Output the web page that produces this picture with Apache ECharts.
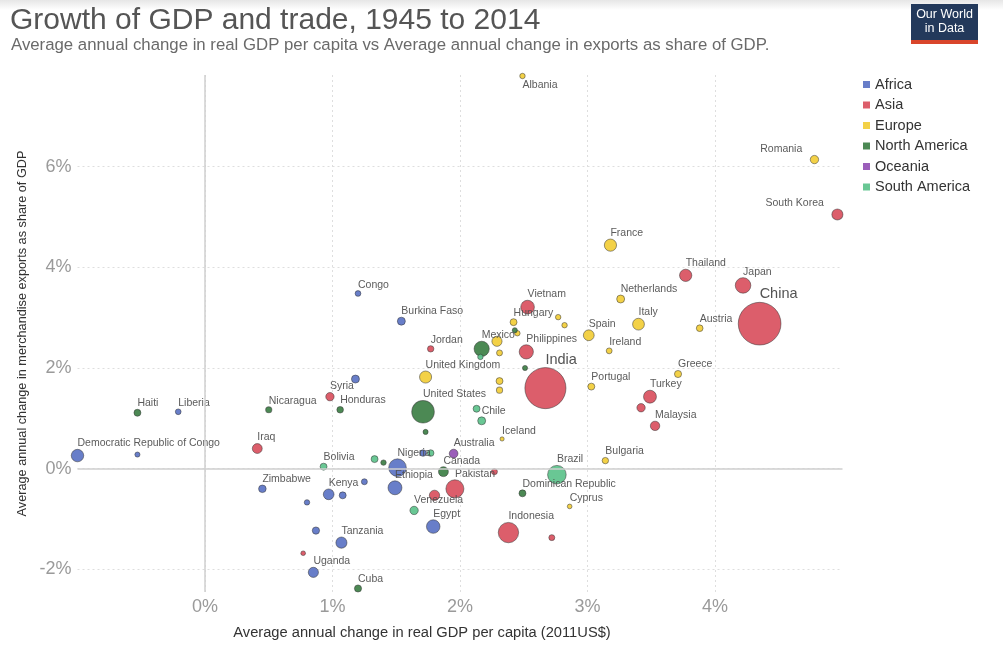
<!DOCTYPE html>
<html>
<head>
<meta charset="utf-8">
<script src="https://cdn.jsdelivr.net/npm/echarts@6/dist/echarts.min.js"></script>
<style>
html,body{margin:0;padding:0;background:#fff;}
#chart{width:1003px;height:646px;}
</style>
</head>
<body>
<div id="chart"></div>
<script>
// ---- DATA: [country, avg annual change in real GDP per capita (%), avg annual change in exports as share of GDP (%), population (millions)] ----
const categories = ['Africa', 'Asia', 'Europe', 'North America', 'Oceania', 'South America'];

const africa = [
  ['Democratic Republic of Congo', -1.00, 0.26, 70],
  ['', -0.53, 0.28, 2],
  ['Liberia', -0.21, 1.13, 4],
  ['Congo', 1.20, 3.48, 4],
  ['Burkina Faso', 1.54, 2.93, 17],
  ['', 1.18, 1.78, 17],
  ['Zimbabwe', 0.45, -0.40, 14],
  ['Kenya', 0.97, -0.51, 45],
  ['', 1.08, -0.53, 10],
  ['', 1.25, -0.26, 5],
  ['', 0.80, -0.67, 3],
  ['', 0.87, -1.23, 12],
  ['Tanzania', 1.07, -1.47, 50],
  ['Uganda', 0.85, -2.06, 38],
  ['Nigeria', 1.51, 0.02, 175],
  ['Ethiopia', 1.49, -0.38, 95],
  ['', 1.71, 0.31, 8],
  ['Egypt', 1.79, -1.15, 88]
];

const asia = [
  ['Syria', 0.98, 1.43, 20],
  ['Iraq', 0.41, 0.40, 35],
  ['Jordan', 1.77, 2.38, 7],
  ['Vietnam', 2.53, 3.21, 90],
  ['Philippines', 2.52, 2.32, 100],
  ['India', 2.67, 1.60, 1250],
  ['China', 4.35, 2.88, 1360],
  ['Japan', 4.22, 3.64, 127],
  ['Thailand', 3.77, 3.84, 67],
  ['South Korea', 4.96, 5.05, 50],
  ['Turkey', 3.49, 1.43, 77],
  ['', 3.42, 1.21, 20],
  ['Malaysia', 3.53, 0.85, 30],
  ['Pakistan', 1.96, -0.40, 185],
  ['', 2.27, -0.06, 5],
  ['', 1.80, -0.53, 40],
  ['Indonesia', 2.38, -1.27, 250],
  ['', 2.72, -1.37, 5],
  ['', 0.77, -1.68, 1]
];

const europe = [
  ['Albania', 2.49, 7.80, 3],
  ['Romania', 4.78, 6.14, 20],
  ['France', 3.18, 4.44, 66],
  ['Netherlands', 3.26, 3.37, 17],
  ['Italy', 3.40, 2.87, 60],
  ['Spain', 3.01, 2.65, 46],
  ['Ireland', 3.17, 2.34, 4.6],
  ['Austria', 3.88, 2.79, 8.5],
  ['Greece', 3.71, 1.88, 11],
  ['Portugal', 3.03, 1.63, 10],
  ['Bulgaria', 3.14, 0.16, 7],
  ['Cyprus', 2.86, -0.75, 1],
  ['Hungary', 2.42, 2.91, 10],
  ['United Kingdom', 1.73, 1.82, 64],
  ['Iceland', 2.33, 0.59, 0.3],
  ['', 2.29, 2.53, 38],
  ['', 2.77, 3.01, 3],
  ['', 2.82, 2.85, 3],
  ['', 2.45, 2.69, 3],
  ['', 2.31, 2.30, 5],
  ['', 2.31, 1.74, 10],
  ['', 2.31, 1.56, 6]
];

const northAmerica = [
  ['Haiti', -0.53, 1.11, 10],
  ['Nicaragua', 0.50, 1.17, 6],
  ['Honduras', 1.06, 1.17, 8],
  ['United States', 1.71, 1.13, 320],
  ['Mexico', 2.17, 2.38, 120],
  ['Canada', 1.87, -0.06, 35],
  ['Dominican Republic', 2.49, -0.49, 10],
  ['Cuba', 1.20, -2.38, 11],
  ['', 1.40, 0.12, 3],
  ['', 1.73, 0.73, 2],
  ['', 2.43, 2.75, 2],
  ['', 2.51, 2.00, 2]
];

const oceania = [
  ['Australia', 1.95, 0.30, 23]
];

const southAmerica = [
  ['Bolivia', 0.93, 0.04, 10],
  ['', 1.33, 0.19, 10],
  ['Chile', 2.17, 0.95, 17],
  ['', 2.13, 1.19, 10],
  ['Brazil', 2.76, -0.12, 200],
  ['Venezuela', 1.64, -0.83, 20],
  ['', 1.77, 0.31, 8],
  ['', 2.16, 2.22, 3]
];

const xTicks = [0, 1, 2, 3, 4];
const yTicks = [-2, 0, 2, 4, 6];

// ---- STYLE ----
const colors = ['#5b73c4', '#d9505e', '#f2cd37', '#3d7f45', '#9350b4', '#5cc28b'];
const groups = [africa, asia, europe, northAmerica, oceania, southAmerica];
const leftLabels = ['Romania', 'South Korea'];
const belowLabels = ['Albania'];
const bigLabels = ['China', 'India'];
const FONT = '"Liberation Sans", Arial, Helvetica, sans-serif';

function radius(p) { return 1.8 + 0.53 * Math.sqrt(p); }

const series = categories.map((c, i) => ({
  name: c,
  type: 'scatter',
  z: 3,
  clip: false,
  symbolSize: v => 2 * radius(v[2]),
  itemStyle: { color: colors[i], opacity: 0.92, borderColor: 'rgba(50,50,50,0.55)', borderWidth: 1 },
  emphasis: { disabled: true },
  label: {
    show: true, position: 'top', align: 'left', distance: 0,
    formatter: p => p.name, fontSize: 10.5, color: '#4d4d4d', fontFamily: FONT
  },
  data: groups[i].slice().sort((a, b) => b[3] - a[3]).map(r => {
    const item = { name: r[0], value: [r[1], r[2], r[3]] };
    if (leftLabels.includes(r[0])) item.label = { align: 'right', offset: [-(radius(r[3]) + 8), 0] };
    if (belowLabels.includes(r[0])) item.label = { position: 'bottom', align: 'left', distance: 0 };
    if (bigLabels.includes(r[0])) item.label = { fontSize: 14.5, color: '#444' };
    return item;
  })
}));

series.unshift({
  name: 'zero', type: 'scatter', z: 1, data: [], silent: true,
  markLine: {
    silent: true, symbol: 'none', label: { show: false },
    lineStyle: { color: '#cfcfcf', type: 'solid', width: 1.5 },
    emphasis: { disabled: true },
    data: [{ xAxis: 0 }, { yAxis: 0 }]
  }
});

const chart = echarts.init(document.getElementById('chart'));
chart.setOption({
  animation: false,
  backgroundColor: '#fff',
  textStyle: { fontFamily: FONT },
  grid: { left: 77.5, right: 160.5, top: 75, bottom: 54, containLabel: false },
  xAxis: {
    type: 'value', min: -1, max: 5, interval: 1,
    axisLine: { show: false }, axisTick: { show: false },
    axisLabel: {
      margin: 6, fontSize: 18, color: '#9a9a9a', fontFamily: FONT,
      formatter: v => xTicks.includes(v) ? v + '%' : ''
    },
    splitLine: { show: true, showMinLine: false, showMaxLine: false, lineStyle: { color: '#dedede', type: [2, 3], width: 1 } }
  },
  yAxis: {
    type: 'value', min: -2.45, max: 7.82, splitNumber: 5,
    axisLine: { show: false }, axisTick: { show: false },
    name: 'Average annual change in merchandise exports as share of GDP',
    nameLocation: 'middle', nameGap: 48,
    nameTextStyle: { fontSize: 12.7, color: '#333', fontFamily: FONT },
    axisLabel: {
      margin: 6, fontSize: 18, color: '#9a9a9a', fontFamily: FONT,
      showMinLabel: false, showMaxLabel: false,
      formatter: v => yTicks.includes(v) ? v + '%' : ''
    },
    splitLine: { show: true, showMinLine: false, showMaxLine: false, lineStyle: { color: '#dedede', type: [2, 3], width: 1 } }
  },
  legend: {
    data: categories, orient: 'vertical', left: 858, top: 72,
    icon: 'rect', itemWidth: 7, itemHeight: 7, itemGap: 5.5,
    itemStyle: { borderWidth: 0 },
    textStyle: { fontSize: 14.5, color: '#333', fontFamily: FONT },
    selectedMode: false
  },
  graphic: [
    { type: 'rect', left: 0, top: 0, z: -1, shape: { width: 1003, height: 10 },
      style: { fill: new echarts.graphic.LinearGradient(0, 0, 0, 1, [{ offset: 0, color: '#e6e6e6' }, { offset: 1, color: '#ffffff' }]) } },
    { type: 'text', left: 10, top: 6, style: { text: 'Growth of GDP and trade, 1945 to 2014', fontSize: 30, fill: '#555', fontFamily: FONT } },
    { type: 'text', left: 11, top: 37, style: { text: 'Average annual change in real GDP per capita vs Average annual change in exports as share of GDP.', fontSize: 16.8, fill: '#6a6a6a', fontFamily: FONT } },
    { type: 'rect', left: 911, top: 4, shape: { width: 67, height: 38 }, style: { fill: '#23395b' } },
    { type: 'rect', left: 911, top: 40, shape: { width: 67, height: 4 }, style: { fill: '#d9452b' } },
    { type: 'text', x: 944.5, y: 15, style: { text: 'Our World', fontSize: 12.5, fill: '#fff', align: 'center', verticalAlign: 'middle', fontFamily: '"Liberation Sans Narrow", ' + FONT } },
    { type: 'text', x: 944.5, y: 29, style: { text: 'in Data', fontSize: 12.5, fill: '#fff', align: 'center', verticalAlign: 'middle', fontFamily: '"Liberation Sans Narrow", ' + FONT } },
    { type: 'text', x: 422, y: 633, style: { text: 'Average annual change in real GDP per capita (2011US$)', fontSize: 14.7, fill: '#333', align: 'center', verticalAlign: 'middle', fontFamily: FONT } }
  ],
  series: series
});
</script>
</body>
</html>
